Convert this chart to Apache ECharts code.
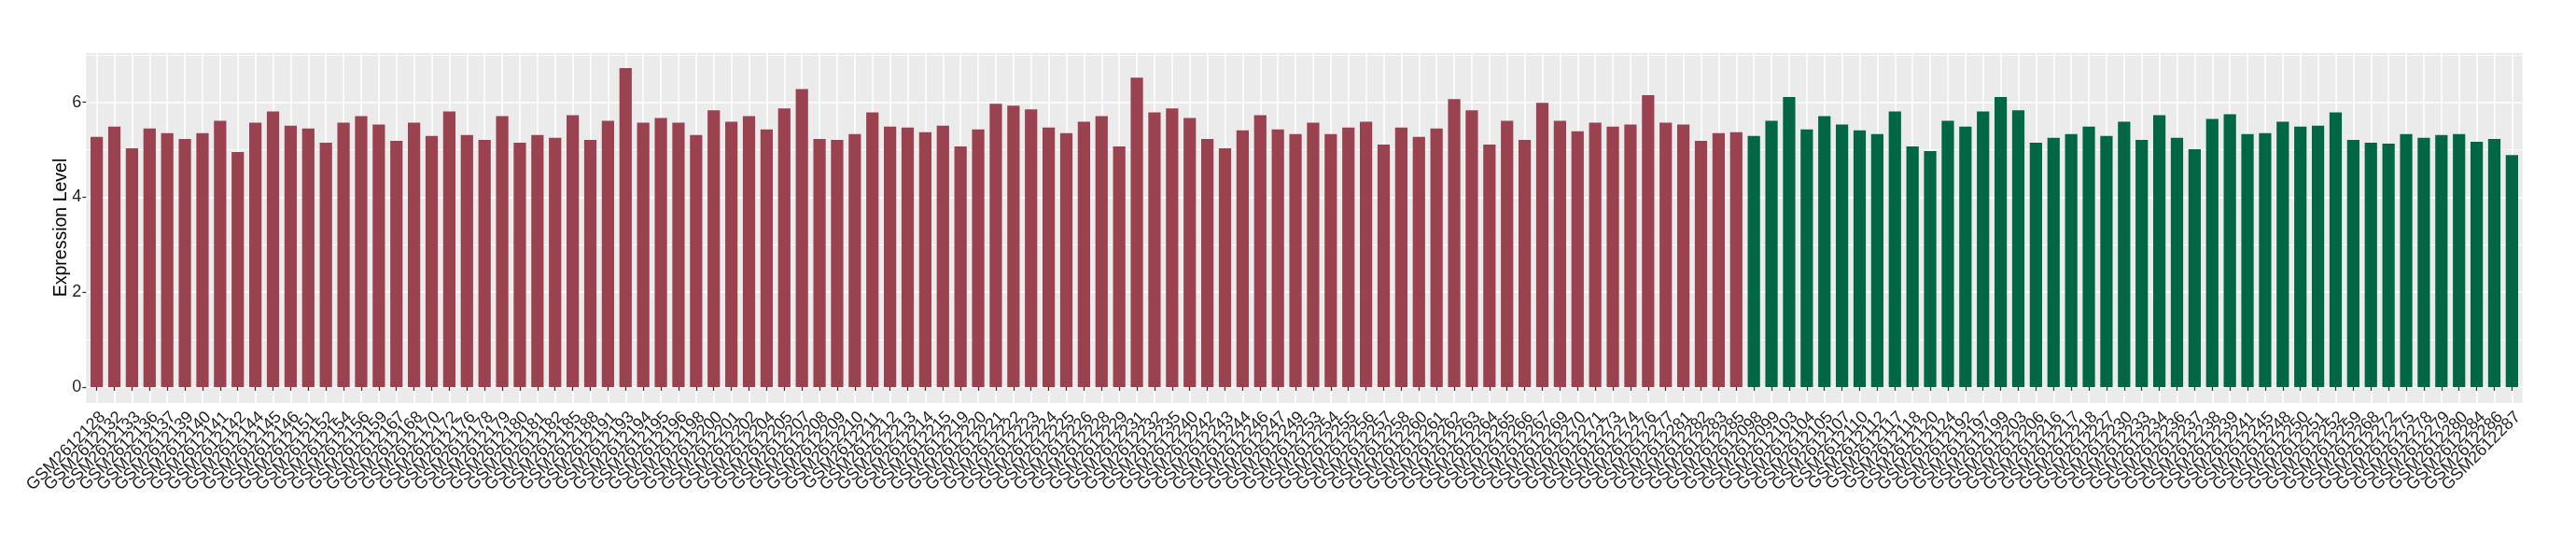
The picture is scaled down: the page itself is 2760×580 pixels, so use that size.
<!DOCTYPE html>
<html>
<head>
<meta charset="utf-8">
<script src="https://cdn.jsdelivr.net/npm/echarts@6/dist/echarts.min.js"></script>
<style>
  html, body { margin: 0; padding: 0; background: #fff; }
  #chart { width: 2760px; height: 580px; }
</style>
</head>
<body>
<div id="chart"></div>
<script>
// samples of the first group (red) and their expression levels
const groupASamples = [
  "GSM2612128", "GSM2612132", "GSM2612133", "GSM2612136", "GSM2612137", "GSM2612139", "GSM2612140", "GSM2612141", "GSM2612142", "GSM2612144",
  "GSM2612145", "GSM2612146", "GSM2612151", "GSM2612152", "GSM2612154", "GSM2612156", "GSM2612159", "GSM2612167", "GSM2612168", "GSM2612170",
  "GSM2612172", "GSM2612176", "GSM2612178", "GSM2612179", "GSM2612180", "GSM2612181", "GSM2612182", "GSM2612185", "GSM2612188", "GSM2612191",
  "GSM2612193", "GSM2612194", "GSM2612195", "GSM2612196", "GSM2612198", "GSM2612200", "GSM2612201", "GSM2612202", "GSM2612204", "GSM2612205",
  "GSM2612207", "GSM2612208", "GSM2612209", "GSM2612210", "GSM2612211", "GSM2612212", "GSM2612213", "GSM2612214", "GSM2612215", "GSM2612219",
  "GSM2612220", "GSM2612221", "GSM2612222", "GSM2612223", "GSM2612224", "GSM2612225", "GSM2612226", "GSM2612228", "GSM2612229", "GSM2612231",
  "GSM2612232", "GSM2612235", "GSM2612240", "GSM2612242", "GSM2612243", "GSM2612244", "GSM2612246", "GSM2612247", "GSM2612249", "GSM2612253",
  "GSM2612254", "GSM2612255", "GSM2612256", "GSM2612257", "GSM2612258", "GSM2612260", "GSM2612261", "GSM2612262", "GSM2612263", "GSM2612264",
  "GSM2612265", "GSM2612266", "GSM2612267", "GSM2612269", "GSM2612270", "GSM2612271", "GSM2612273", "GSM2612274", "GSM2612276", "GSM2612277",
  "GSM2612281", "GSM2612282", "GSM2612283", "GSM2612285"
];
const groupAValues = [
  5.27, 5.49, 5.03, 5.45, 5.35, 5.23, 5.35, 5.61, 4.95, 5.57,
  5.81, 5.51, 5.45, 5.15, 5.57, 5.71, 5.53, 5.19, 5.57, 5.29,
  5.81, 5.31, 5.21, 5.71, 5.15, 5.31, 5.25, 5.73, 5.21, 5.61,
  6.72, 5.57, 5.67, 5.57, 5.31, 5.83, 5.59, 5.71, 5.43, 5.87,
  6.28, 5.23, 5.21, 5.33, 5.79, 5.49, 5.47, 5.37, 5.51, 5.07,
  5.43, 5.97, 5.93, 5.85, 5.47, 5.35, 5.59, 5.71, 5.07, 6.52,
  5.79, 5.87, 5.67, 5.23, 5.03, 5.41, 5.73, 5.43, 5.33, 5.57,
  5.33, 5.47, 5.59, 5.11, 5.47, 5.27, 5.45, 6.07, 5.83, 5.11,
  5.61, 5.21, 5.99, 5.61, 5.39, 5.57, 5.49, 5.53, 6.15, 5.57,
  5.53, 5.19, 5.35, 5.37
];

// samples of the second group (green)
const groupBSamples = [
  "GSM2612098", "GSM2612099", "GSM2612103", "GSM2612104", "GSM2612105", "GSM2612107", "GSM2612110", "GSM2612112", "GSM2612117", "GSM2612118",
  "GSM2612120", "GSM2612124", "GSM2612192", "GSM2612197", "GSM2612199", "GSM2612203", "GSM2612206", "GSM2612216", "GSM2612217", "GSM2612218",
  "GSM2612227", "GSM2612230", "GSM2612233", "GSM2612234", "GSM2612236", "GSM2612237", "GSM2612238", "GSM2612239", "GSM2612241", "GSM2612245",
  "GSM2612248", "GSM2612250", "GSM2612251", "GSM2612252", "GSM2612259", "GSM2612268", "GSM2612272", "GSM2612275", "GSM2612278", "GSM2612279",
  "GSM2612280", "GSM2612284", "GSM2612286", "GSM2612287"
];
const groupBValues = [
  5.29, 5.61, 6.11, 5.43, 5.71, 5.53, 5.41, 5.33, 5.81, 5.07,
  4.97, 5.61, 5.49, 5.81, 6.11, 5.83, 5.15, 5.25, 5.33, 5.49,
  5.29, 5.59, 5.21, 5.73, 5.25, 5.01, 5.65, 5.75, 5.33, 5.35,
  5.59, 5.49, 5.51, 5.79, 5.21, 5.15, 5.13, 5.33, 5.25, 5.31,
  5.33, 5.17, 5.23, 4.89
];

const yTickLabels = ["0", "2", "4", "6"];

const categories = groupASamples.concat(groupBSamples);
const seriesA = groupAValues.concat(groupBSamples.map(() => null));
const seriesB = groupASamples.map(() => null).concat(groupBValues);

// ggplot style panel: discrete axis padded by 0.6 bar, value axis by 5%
const panelLeft = 92.3, panelRight = 2702.7, panelTop = 56, panelBottom = 432;
const n = categories.length;
const unit = (panelRight - panelLeft) / (n - 1 + 1.2);
const yMaxData = Math.max(...groupAValues, ...groupBValues);
const yLo = -0.05 * yMaxData, yHi = 1.05 * yMaxData;
const zeroY = panelTop + yHi / (yHi - yLo) * (panelBottom - panelTop);

const font = "Liberation Sans";
const textColor = "#1F1F1F";

const chart = echarts.init(document.getElementById("chart"), null, { renderer: "canvas" });
chart.setOption({
  animation: false,
  backgroundColor: "#ffffff",
  grid: [
    // panel background + axis title
    { left: panelLeft, top: panelTop, width: panelRight - panelLeft, height: panelBottom - panelTop,
      show: true, backgroundColor: "#EBEBEB", borderWidth: 0 },
    // y ticks / horizontal grid lines (0 .. top)
    { left: panelLeft, top: panelTop, width: panelRight - panelLeft, height: zeroY - panelTop, show: false },
    // bars
    { left: panelLeft + 0.6 * unit, top: panelTop, width: (n - 1) * unit, height: panelBottom - panelTop, show: false }
  ],
  xAxis: [
    { gridIndex: 0, type: "value", show: false },
    { gridIndex: 1, type: "value", show: false },
    {
      gridIndex: 2,
      type: "category",
      data: categories,
      boundaryGap: false,
      axisLine: { show: false },
      axisTick: { show: true, interval: 0, length: 4, lineStyle: { color: "#333333", width: 1.3 } },
      axisLabel: {
        interval: 0, rotate: 45, align: "right", verticalAlign: "top", margin: 6,
        fontSize: 18, fontFamily: font, color: textColor
      },
      splitLine: { show: true, interval: 0, lineStyle: { color: "#ffffff", width: 1.5 } }
    }
  ],
  yAxis: [
    {
      gridIndex: 0, type: "value", min: 0, max: 1,
      name: "Expression Level", nameLocation: "middle", nameGap: 17,
      nameTextStyle: { fontSize: 19.5, fontFamily: font, color: "#000000", fontWeight: "normal" },
      axisLine: { show: false }, axisTick: { show: false }, axisLabel: { show: false }, splitLine: { show: false }
    },
    {
      gridIndex: 1, type: "value", min: 0, max: yHi, interval: 2,
      axisLine: { show: false },
      axisTick: { show: true, length: 4, lineStyle: { color: "#333333", width: 1.3 } },
      axisLabel: {
        margin: 5, fontSize: 18, fontFamily: font, color: textColor, showMaxLabel: false,
        formatter: (v) => yTickLabels.includes(String(v)) ? String(v) : ""
      },
      splitLine: { show: true, lineStyle: { color: "#ffffff", width: 1.5 } },
      minorTick: { show: false, splitNumber: 2 },
      minorSplitLine: { show: true, lineStyle: { color: "#ffffff", width: 0.8 } }
    },
    { gridIndex: 2, type: "value", min: yLo, max: yHi, show: false }
  ],
  series: [
    {
      name: "group A", type: "bar", xAxisIndex: 2, yAxisIndex: 2,
      data: seriesA, barWidth: "70%", barGap: "-100%",
      itemStyle: { color: "#9A4250" }
    },
    {
      name: "group B", type: "bar", xAxisIndex: 2, yAxisIndex: 2,
      data: seriesB, barWidth: "70%", barGap: "-100%",
      itemStyle: { color: "#006745" }
    }
  ]
});
</script>
</body>
</html>
